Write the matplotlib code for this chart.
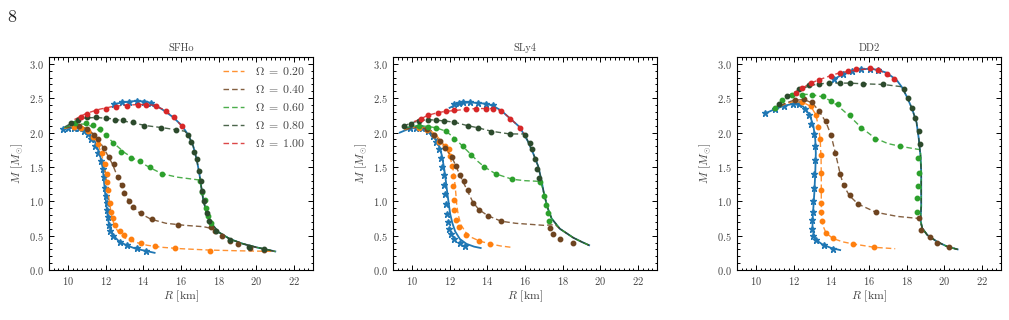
import matplotlib
matplotlib.use("Agg")
import matplotlib.pyplot as plt
from matplotlib.ticker import MultipleLocator

# ---------------- data (R [km], M [Msun]) ----------------
panel_titles = ["SFHo", "SLy4", "DD2"]
omega_labels = ["0.20", "0.40", "0.60", "0.80", "1.00"]

# ---- SFHo ----
sfho_static_line = [(9.7,2.05),(10.0,2.065),(10.4,2.07),(10.8,2.05),(11.15,1.98),(11.45,1.86),(11.7,1.68),(11.85,1.48),(11.93,1.25),(12.0,1.05),(12.07,0.88),(12.14,0.72),(12.25,0.6),(12.42,0.5),(12.7,0.42),(13.1,0.36),(13.6,0.31),(14.1,0.28),(14.6,0.25)]
sfho_static_pts = [(9.75,2.05),(10.0,2.06),(10.3,2.07),(10.6,2.06),(10.85,2.03),(11.05,1.98),(11.25,1.9),(11.45,1.8),(11.6,1.7),(11.75,1.58),(11.86,1.47),(11.92,1.36),(11.96,1.2),(12.0,1.07),(12.05,0.97),(12.1,0.88),(12.13,0.77),(12.16,0.66),(12.25,0.57),(12.4,0.5),(12.75,0.41),(13.16,0.36),(13.69,0.32),(14.17,0.28)]
sfho_kep_line = [(12.4,2.41),(12.9,2.44),(13.6,2.46),(14.2,2.45),(14.7,2.39),(15.1,2.32),(15.6,2.22),(16.05,2.1),(16.4,1.96),(16.65,1.8),(16.83,1.61),(16.97,1.41),(17.07,1.22),(17.18,1.02),(17.35,0.84),(17.6,0.68),(18.0,0.55),(18.6,0.45),(19.3,0.38),(20.0,0.33),(20.5,0.30),(21.0,0.27)]
sfho_kep_pts = [(12.45,2.42),(12.85,2.44),(13.25,2.45),(13.65,2.46),(14.05,2.45),(14.4,2.43)]
sfho_w020_line = [(9.8,2.06),(10.4,2.09),(10.9,2.06),(11.3,1.98),(11.6,1.84),(11.85,1.62),(12.0,1.4),(12.1,1.2),(12.2,1.0),(12.3,0.82),(12.45,0.66),(12.7,0.54),(13.0,0.47),(13.5,0.41),(14.2,0.36),(15.0,0.33),(16.0,0.31),(17.5,0.29),(19.0,0.28),(21.0,0.27)]
sfho_w020_pts = [(10.3,2.08),(10.7,2.06),(11.05,2.02),(11.35,1.94),(11.6,1.84),(11.8,1.7),(11.95,1.55),(12.05,1.4),(12.1,1.28),(12.13,1.17),(12.22,0.97),(12.3,0.85),(12.4,0.75),(12.52,0.66),(12.75,0.57),(13.0,0.51),(13.33,0.45),(13.86,0.39),(14.6,0.35),(15.68,0.32),(17.54,0.28)]
sfho_w040_line = [(9.9,2.07),(10.5,2.10),(11.0,2.06),(11.4,1.97),(11.75,1.84),(12.05,1.7),(12.35,1.55),(12.6,1.38),(12.85,1.22),(13.1,1.07),(13.4,0.94),(13.8,0.83),(14.4,0.74),(15.2,0.68),(16.2,0.65),(17.2,0.63),(17.7,0.6),(18.0,0.55),(18.6,0.45),(19.3,0.38),(20.0,0.33),(20.5,0.30),(21.0,0.27)]
sfho_w040_pts = [(10.6,2.09),(11.0,2.05),(11.38,1.97),(11.6,1.9),(11.92,1.78),(12.2,1.65),(12.45,1.55),(12.66,1.36),(12.87,1.23),(13.0,1.12),(13.23,1.01),(13.46,0.92),(13.9,0.83),(14.44,0.74),(15.82,0.66),(17.6,0.62),(17.8,0.57),(18.16,0.50),(18.6,0.42),(19.0,0.375),(19.66,0.325),(20.42,0.29)]
sfho_w060_line = [(9.82,2.07),(10.4,2.13),(11.0,2.12),(11.5,2.06),(12.0,1.96),(12.5,1.83),(13.0,1.71),(13.5,1.62),(13.85,1.57),(14.35,1.49),(15.0,1.40),(15.83,1.35),(16.97,1.31),(17.07,1.22),(17.18,1.02),(17.35,0.84),(17.6,0.68),(18.0,0.55),(18.6,0.45),(19.3,0.38),(20.0,0.33),(20.5,0.30),(21.0,0.27)]
sfho_w060_pts = [(10.4,2.14),(10.98,2.14),(11.33,2.11),(11.69,2.05),(12.04,1.97),(12.4,1.85),(12.84,1.72),(13.35,1.63),(13.85,1.58),(14.35,1.50),(14.97,1.39),(17.0,1.29),(17.1,1.14),(17.27,1.02),(17.3,0.90),(17.45,0.78),(17.59,0.68)]
sfho_w080_line = [(9.82,2.08),(10.27,2.15),(10.8,2.21),(11.5,2.22),(12.39,2.20),(13.46,2.14),(14.17,2.10),(15.05,2.07),(15.76,2.04),(16.2,2.02),(16.4,1.96),(16.65,1.8),(16.83,1.61),(16.97,1.41),(17.07,1.22),(17.18,1.02),(17.35,0.84),(17.6,0.68),(18.0,0.55),(18.6,0.45),(19.3,0.38),(20.0,0.33),(20.5,0.30),(21.0,0.27)]
sfho_w080_pts = [(10.15,2.14),(10.55,2.19),(11.0,2.22),(11.5,2.22),(12.0,2.21),(12.5,2.19),(12.95,2.18),(13.45,2.15),(14.05,2.10),(14.95,2.06),(15.75,2.04),(16.35,1.97),(16.55,1.87),(16.7,1.72),(16.85,1.61),(16.97,1.44),(17.05,1.29),(17.13,1.15),(17.22,1.0),(17.36,0.83),(17.5,0.71),(17.85,0.57),(18.6,0.44),(19.6,0.34),(20.4,0.30)]
sfho_w100_line = [(10.35,2.19),(10.98,2.28),(11.68,2.34),(12.39,2.38),(13.1,2.40),(13.99,2.41),(14.5,2.40),(15.05,2.34),(15.6,2.23),(16.08,2.08)]
sfho_w100_pts = [(10.7,2.23),(11.0,2.27),(11.5,2.32),(12.0,2.35),(12.55,2.37),(13.15,2.39),(13.7,2.40),(14.15,2.40),(14.7,2.38),(15.2,2.32),(15.65,2.23),(16.05,2.09)]

# ---- SLy4 ----
sly4_static_line = [(9.36,2.0),(9.8,2.05),(10.2,2.07),(10.6,2.05),(10.9,2.01),(11.2,1.93),(11.42,1.82),(11.58,1.68),(11.7,1.5),(11.8,1.3),(11.88,1.12),(11.95,0.98),(12.03,0.82),(12.15,0.68),(12.3,0.56),(12.55,0.45),(12.9,0.38),(13.3,0.34),(13.65,0.32)]
sly4_static_pts = [(9.9,2.06),(10.2,2.07),(10.55,2.06),(10.85,2.02),(11.1,1.95),(11.3,1.86),(11.45,1.76),(11.55,1.63),(11.62,1.5),(11.68,1.38),(11.73,1.24),(11.78,1.1),(11.82,0.96),(11.86,0.82),(11.9,0.7),(11.95,0.6),(12.05,0.52),(12.26,0.45),(12.55,0.39),(12.84,0.35)]
sly4_kep_line = [(12.0,2.36),(12.3,2.40),(12.7,2.43),(13.1,2.44),(13.5,2.43),(13.95,2.42),(14.3,2.39),(14.74,2.32),(15.19,2.21),(15.72,2.08),(16.16,1.87),(16.43,1.70),(16.7,1.51),(16.87,1.31),(17.0,1.12),(17.18,0.92),(17.41,0.75),(17.85,0.6),(18.56,0.47),(19.0,0.41),(19.4,0.36)]
sly4_kep_pts = [(12.26,2.42),(12.5,2.43),(12.7,2.44),(13.09,2.44),(13.5,2.43),(13.94,2.42),(14.3,2.40)]
sly4_w020_line = [(9.6,2.04),(10.0,2.07),(10.5,2.08),(10.9,2.05),(11.3,1.96),(11.65,1.84),(11.95,1.7),(12.15,1.52),(12.25,1.35),(12.32,1.15),(12.38,0.95),(12.46,0.8),(12.6,0.66),(12.85,0.55),(13.2,0.47),(13.6,0.42),(14.16,0.38),(14.7,0.35),(15.28,0.33)]
sly4_w020_pts = [(10.4,2.07),(10.8,2.04),(11.15,1.97),(11.45,1.87),(11.75,1.8),(11.99,1.76),(12.04,1.66),(12.13,1.51),(12.17,1.37),(12.2,1.22),(12.22,1.02),(12.26,0.88),(12.35,0.73),(12.52,0.63),(12.88,0.51),(13.55,0.42),(14.16,0.38)]
sly4_w040_line = [(9.7,2.05),(10.2,2.08),(10.7,2.06),(11.1,1.98),(11.5,1.87),(11.78,1.78),(12.13,1.64),(12.34,1.51),(12.55,1.38),(12.74,1.27),(12.97,1.14),(13.23,0.99),(13.55,0.88),(14.03,0.79),(14.74,0.71),(15.5,0.68),(16.5,0.66),(17.0,0.65),(17.6,0.66),(17.85,0.6),(18.56,0.47),(19.0,0.41),(19.4,0.36)]
sly4_w040_pts = [(10.8,2.05),(11.2,1.97),(11.5,1.88),(11.78,1.78),(12.13,1.65),(12.34,1.51),(12.55,1.38),(12.74,1.29),(12.97,1.16),(13.23,0.97),(13.55,0.87),(14.03,0.79),(14.74,0.71),(17.35,0.61),(17.5,0.53),(17.85,0.45),(18.56,0.39)]
sly4_w060_line = [(9.6,2.07),(10.0,2.09),(10.39,2.10),(10.83,2.09),(11.28,2.07),(11.81,2.02),(12.26,1.92),(12.7,1.80),(13.14,1.68),(13.5,1.58),(13.85,1.50),(14.44,1.40),(15.33,1.32),(16.0,1.30),(16.78,1.29),(16.9,1.22),(17.0,1.12),(17.18,0.92),(17.41,0.75),(17.85,0.6),(18.56,0.47),(19.0,0.41),(19.4,0.36)]
sly4_w060_pts = [(10.39,2.09),(10.83,2.08),(11.28,2.07),(11.81,2.02),(12.26,1.91),(12.7,1.80),(13.14,1.68),(13.85,1.50),(14.44,1.40),(15.33,1.32),(16.78,1.28),(17.0,1.07),(17.1,0.95),(17.22,0.83),(17.28,0.72)]
sly4_w080_line = [(9.54,2.09),(9.95,2.14),(10.39,2.17),(10.83,2.19),(11.28,2.18),(11.72,2.17),(12.26,2.15),(12.97,2.10),(13.5,2.07),(14.21,2.02),(15.19,1.98),(15.99,1.98),(16.16,1.87),(16.43,1.70),(16.7,1.51),(16.87,1.31),(17.0,1.12),(17.18,0.92),(17.41,0.75),(17.85,0.6),(18.56,0.47),(19.0,0.41),(19.4,0.36)]
sly4_w080_pts = [(9.6,2.1),(9.95,2.13),(10.39,2.17),(10.83,2.19),(11.28,2.18),(11.72,2.17),(12.26,2.15),(12.97,2.10),(13.5,2.07),(14.21,2.01),(15.19,1.98),(16.0,1.97),(16.25,1.85),(16.39,1.76),(16.52,1.61),(16.65,1.47),(16.75,1.34)]
sly4_w100_line = [(10.12,2.16),(10.48,2.2),(10.83,2.25),(11.37,2.29),(11.81,2.31),(12.26,2.32),(12.88,2.34),(13.41,2.35),(13.94,2.35),(14.3,2.35),(14.74,2.32),(15.19,2.21),(15.72,2.08),(16.0,1.97)]
sly4_w100_pts = [(10.48,2.2),(10.83,2.25),(11.37,2.29),(11.81,2.31),(12.26,2.33),(12.88,2.34),(13.41,2.35),(13.94,2.35),(14.3,2.35),(14.74,2.31),(15.19,2.2),(15.72,2.07)]

# ---- DD2 ----
dd2_static_line = [(10.5,2.28),(11.0,2.34),(11.5,2.39),(12.0,2.42),(12.5,2.38),(12.85,2.26),(13.05,2.1),(13.15,1.9),(13.18,1.7),(13.15,1.41),(13.1,1.12),(13.02,0.78),(13.0,0.61),(13.08,0.5),(13.18,0.44),(13.54,0.37),(14.0,0.32),(14.47,0.29)]
dd2_static_pts = [(10.5,2.28),(11.0,2.34),(11.48,2.38),(11.99,2.42),(12.3,2.41),(12.6,2.35),(12.8,2.25),(12.95,2.12),(13.07,1.98),(13.12,1.8),(13.12,1.6),(13.1,1.4),(13.08,1.2),(13.05,1.0),(13.02,0.85),(13.0,0.73),(12.99,0.6),(13.05,0.5),(13.18,0.43),(13.6,0.37),(14.1,0.31)]
dd2_kep_line = [(14.1,2.77),(14.62,2.85),(15.12,2.90),(15.6,2.92),(16.05,2.93),(16.5,2.91),(16.94,2.87),(17.48,2.76),(17.75,2.66),(18.01,2.52),(18.28,2.35),(18.52,2.15),(18.64,1.91),(18.73,1.66),(18.77,1.42),(18.77,1.17),(18.77,0.93),(18.73,0.73),(18.82,0.61),(19.09,0.51),(19.62,0.41),(20.16,0.34),(20.7,0.30)]
dd2_kep_pts = [(14.17,2.78),(14.62,2.85),(15.12,2.90),(15.6,2.92),(16.05,2.93),(16.5,2.91)]
dd2_w020_line = [(10.9,2.33),(11.5,2.41),(12.0,2.45),(12.5,2.44),(12.92,2.38),(13.18,2.26),(13.35,2.05),(13.42,1.85),(13.46,1.6),(13.47,1.3),(13.47,1.0),(13.48,0.8),(13.55,0.65),(13.72,0.54),(14.08,0.46),(14.6,0.41),(15.15,0.38),(16.28,0.33),(17.39,0.31)]
dd2_w020_pts = [(12.47,2.44),(12.92,2.38),(13.18,2.26),(13.3,2.08),(13.4,1.90),(13.45,1.68),(13.45,1.41),(13.45,1.17),(13.45,0.98),(13.45,0.85),(13.5,0.71),(13.72,0.54),(14.08,0.46),(15.15,0.38),(16.28,0.33)]
dd2_w040_line = [(10.9,2.33),(11.5,2.42),(12.0,2.47),(12.56,2.48),(13.0,2.43),(13.36,2.31),(13.72,2.15),(13.99,1.96),(14.22,1.70),(14.47,1.40),(14.65,1.23),(14.97,1.08),(15.42,0.96),(16.37,0.84),(17.5,0.78),(18.64,0.75),(18.73,0.70),(18.82,0.61),(19.09,0.51),(19.62,0.41),(20.16,0.34),(20.7,0.30)]
dd2_w040_pts = [(12.1,2.47),(12.56,2.49),(13.0,2.44),(13.36,2.31),(13.72,2.17),(13.99,1.97),(14.22,1.70),(14.47,1.39),(14.65,1.23),(14.97,1.09),(15.42,0.96),(16.37,0.84),(18.64,0.76),(18.77,0.58),(19.23,0.48),(19.62,0.40),(20.25,0.34)]
dd2_w060_line = [(10.9,2.33),(11.2,2.41),(11.5,2.48),(11.93,2.54),(12.47,2.56),(13.0,2.55),(13.54,2.52),(13.99,2.46),(14.35,2.39),(14.97,2.24),(15.6,2.07),(16.32,1.92),(17.0,1.84),(17.66,1.80),(18.73,1.75),(18.77,1.42),(18.77,1.17),(18.77,0.93),(18.73,0.73),(18.82,0.61),(19.09,0.51),(19.62,0.41),(20.16,0.34),(20.7,0.30)]
dd2_w060_pts = [(11.0,2.36),(11.4,2.47),(11.93,2.54),(12.47,2.55),(13.0,2.55),(13.54,2.53),(13.99,2.46),(14.35,2.41),(14.97,2.25),(15.6,2.07),(16.32,1.91),(17.66,1.81),(18.58,1.63),(18.64,1.41),(18.58,1.22),(18.55,1.05),(18.52,0.85)]
dd2_w080_line = [(11.0,2.34),(11.22,2.41),(11.66,2.53),(12.29,2.62),(12.83,2.68),(13.36,2.71),(13.9,2.72),(14.44,2.72),(14.97,2.72),(15.69,2.71),(16.76,2.70),(17.66,2.67),(17.75,2.66),(18.01,2.52),(18.28,2.35),(18.52,2.15),(18.64,1.91),(18.73,1.66),(18.77,1.42),(18.77,1.17),(18.77,0.93),(18.73,0.73),(18.82,0.61),(19.09,0.51),(19.62,0.41),(20.16,0.34),(20.7,0.30)]
dd2_w080_pts = [(11.22,2.41),(11.66,2.53),(12.29,2.63),(12.83,2.69),(13.36,2.71),(13.9,2.72),(14.44,2.72),(14.97,2.72),(15.69,2.71),(16.76,2.70),(17.84,2.64),(18.05,2.51),(18.28,2.36),(18.46,2.21),(18.64,2.02),(18.69,1.83)]
dd2_w100_line = [(11.75,2.53),(12.11,2.58),(12.47,2.65),(12.92,2.72),(13.36,2.77),(13.99,2.83),(14.44,2.87),(14.88,2.89),(15.33,2.91),(16.05,2.93),(16.5,2.91),(16.94,2.85),(17.3,2.78),(17.57,2.72)]
dd2_w100_pts = [(12.11,2.58),(12.47,2.65),(12.92,2.72),(13.36,2.77),(13.99,2.83),(14.44,2.87),(14.88,2.89),(15.33,2.92),(16.05,2.94),(16.5,2.91),(16.94,2.85),(17.3,2.78)]

panels = [
    (sfho_static_line, sfho_static_pts, sfho_kep_line, sfho_kep_pts,
     [(sfho_w020_line, sfho_w020_pts), (sfho_w040_line, sfho_w040_pts), (sfho_w060_line, sfho_w060_pts),
      (sfho_w080_line, sfho_w080_pts), (sfho_w100_line, sfho_w100_pts)]),
    (sly4_static_line, sly4_static_pts, sly4_kep_line, sly4_kep_pts,
     [(sly4_w020_line, sly4_w020_pts), (sly4_w040_line, sly4_w040_pts), (sly4_w060_line, sly4_w060_pts),
      (sly4_w080_line, sly4_w080_pts), (sly4_w100_line, sly4_w100_pts)]),
    (dd2_static_line, dd2_static_pts, dd2_kep_line, dd2_kep_pts,
     [(dd2_w020_line, dd2_w020_pts), (dd2_w040_line, dd2_w040_pts), (dd2_w060_line, dd2_w060_pts),
      (dd2_w080_line, dd2_w080_pts), (dd2_w100_line, dd2_w100_pts)]),
]

# ---------------- style ----------------
plt.rcParams.update({
    "font.family": "serif",
    "font.serif": ["cmr10", "DejaVu Serif"],
    "mathtext.fontset": "cm",
    "axes.formatter.use_mathtext": True,
    "axes.unicode_minus": False,
})
blue = "#1f77b4"
omega_colors = ["#ff7f0e", "#6e4420", "#2ca02c", "#2c4a2c", "#d62728"]
text_col = "#444444"

fig = plt.figure(figsize=(10.09, 3.2), dpi=100)
lefts = [49/1009, 393/1009, 737/1009]
W = 264/1009
B = 50/320
H = 213/320

def xy(pairs):
    return [p[0] for p in pairs], [p[1] for p in pairs]

for i, (st_l, st_p, kp_l, kp_p, oms) in enumerate(panels):
    ax = fig.add_axes([lefts[i], B, W, H])
    # static and Kepler sequences
    x, y = xy(st_l); ax.plot(x, y, color=blue, lw=1.3, zorder=3)
    x, y = xy(st_p); ax.plot(x, y, ls="none", marker="*", ms=4.5, color=blue, zorder=3)
    x, y = xy(kp_l); ax.plot(x, y, color=blue, lw=1.3, zorder=3)
    x, y = xy(kp_p); ax.plot(x, y, ls="none", marker="*", ms=4.5, color=blue, zorder=3)
    for j, (ln, pts) in enumerate(oms):
        c = omega_colors[j]
        x, y = xy(ln)
        ax.plot(x, y, color=c, lw=1.0, ls=(0, (4, 2.2)), alpha=0.85, zorder=4,
                label=r"$\Omega\;=\;%s$" % omega_labels[j])
        x, y = xy(pts)
        ax.plot(x, y, ls="none", marker="o", ms=3.2, color=c, zorder=5)
    ax.set_xlim(9, 23)
    ax.set_ylim(0, 3.1)
    ax.xaxis.set_major_locator(MultipleLocator(2))
    ax.xaxis.set_minor_locator(MultipleLocator(0.25))
    ax.yaxis.set_major_locator(MultipleLocator(0.5))
    ax.yaxis.set_minor_locator(MultipleLocator(0.1))
    ax.tick_params(which="both", direction="in", top=True, right=True,
                   labelsize=7.5, labelcolor=text_col, width=0.7)
    ax.tick_params(which="major", length=3.5)
    ax.tick_params(which="minor", length=1.8)
    for s in ax.spines.values():
        s.set_linewidth(0.8)
    ax.set_xlabel(r"$R$ [km]", fontsize=8.5, color=text_col, labelpad=1)
    ax.set_ylabel(r"$M$ [$M_{\odot}$]", fontsize=8.5, color=text_col, labelpad=3)
    ax.set_title(panel_titles[i], fontsize=7.5, color=text_col, pad=4)
    if i == 0:
        leg = ax.legend(loc="upper right", frameon=False, fontsize=8.5, handlelength=1.8,
                        labelspacing=0.5, borderaxespad=0.3, handletextpad=0.9)
        for t in leg.get_texts():
            t.set_color(text_col)

fig.text(12/1009, 1 - 17/320, "8", fontsize=13, va="center", ha="center", color="#222222")

fig.savefig("out.png", dpi=100)
